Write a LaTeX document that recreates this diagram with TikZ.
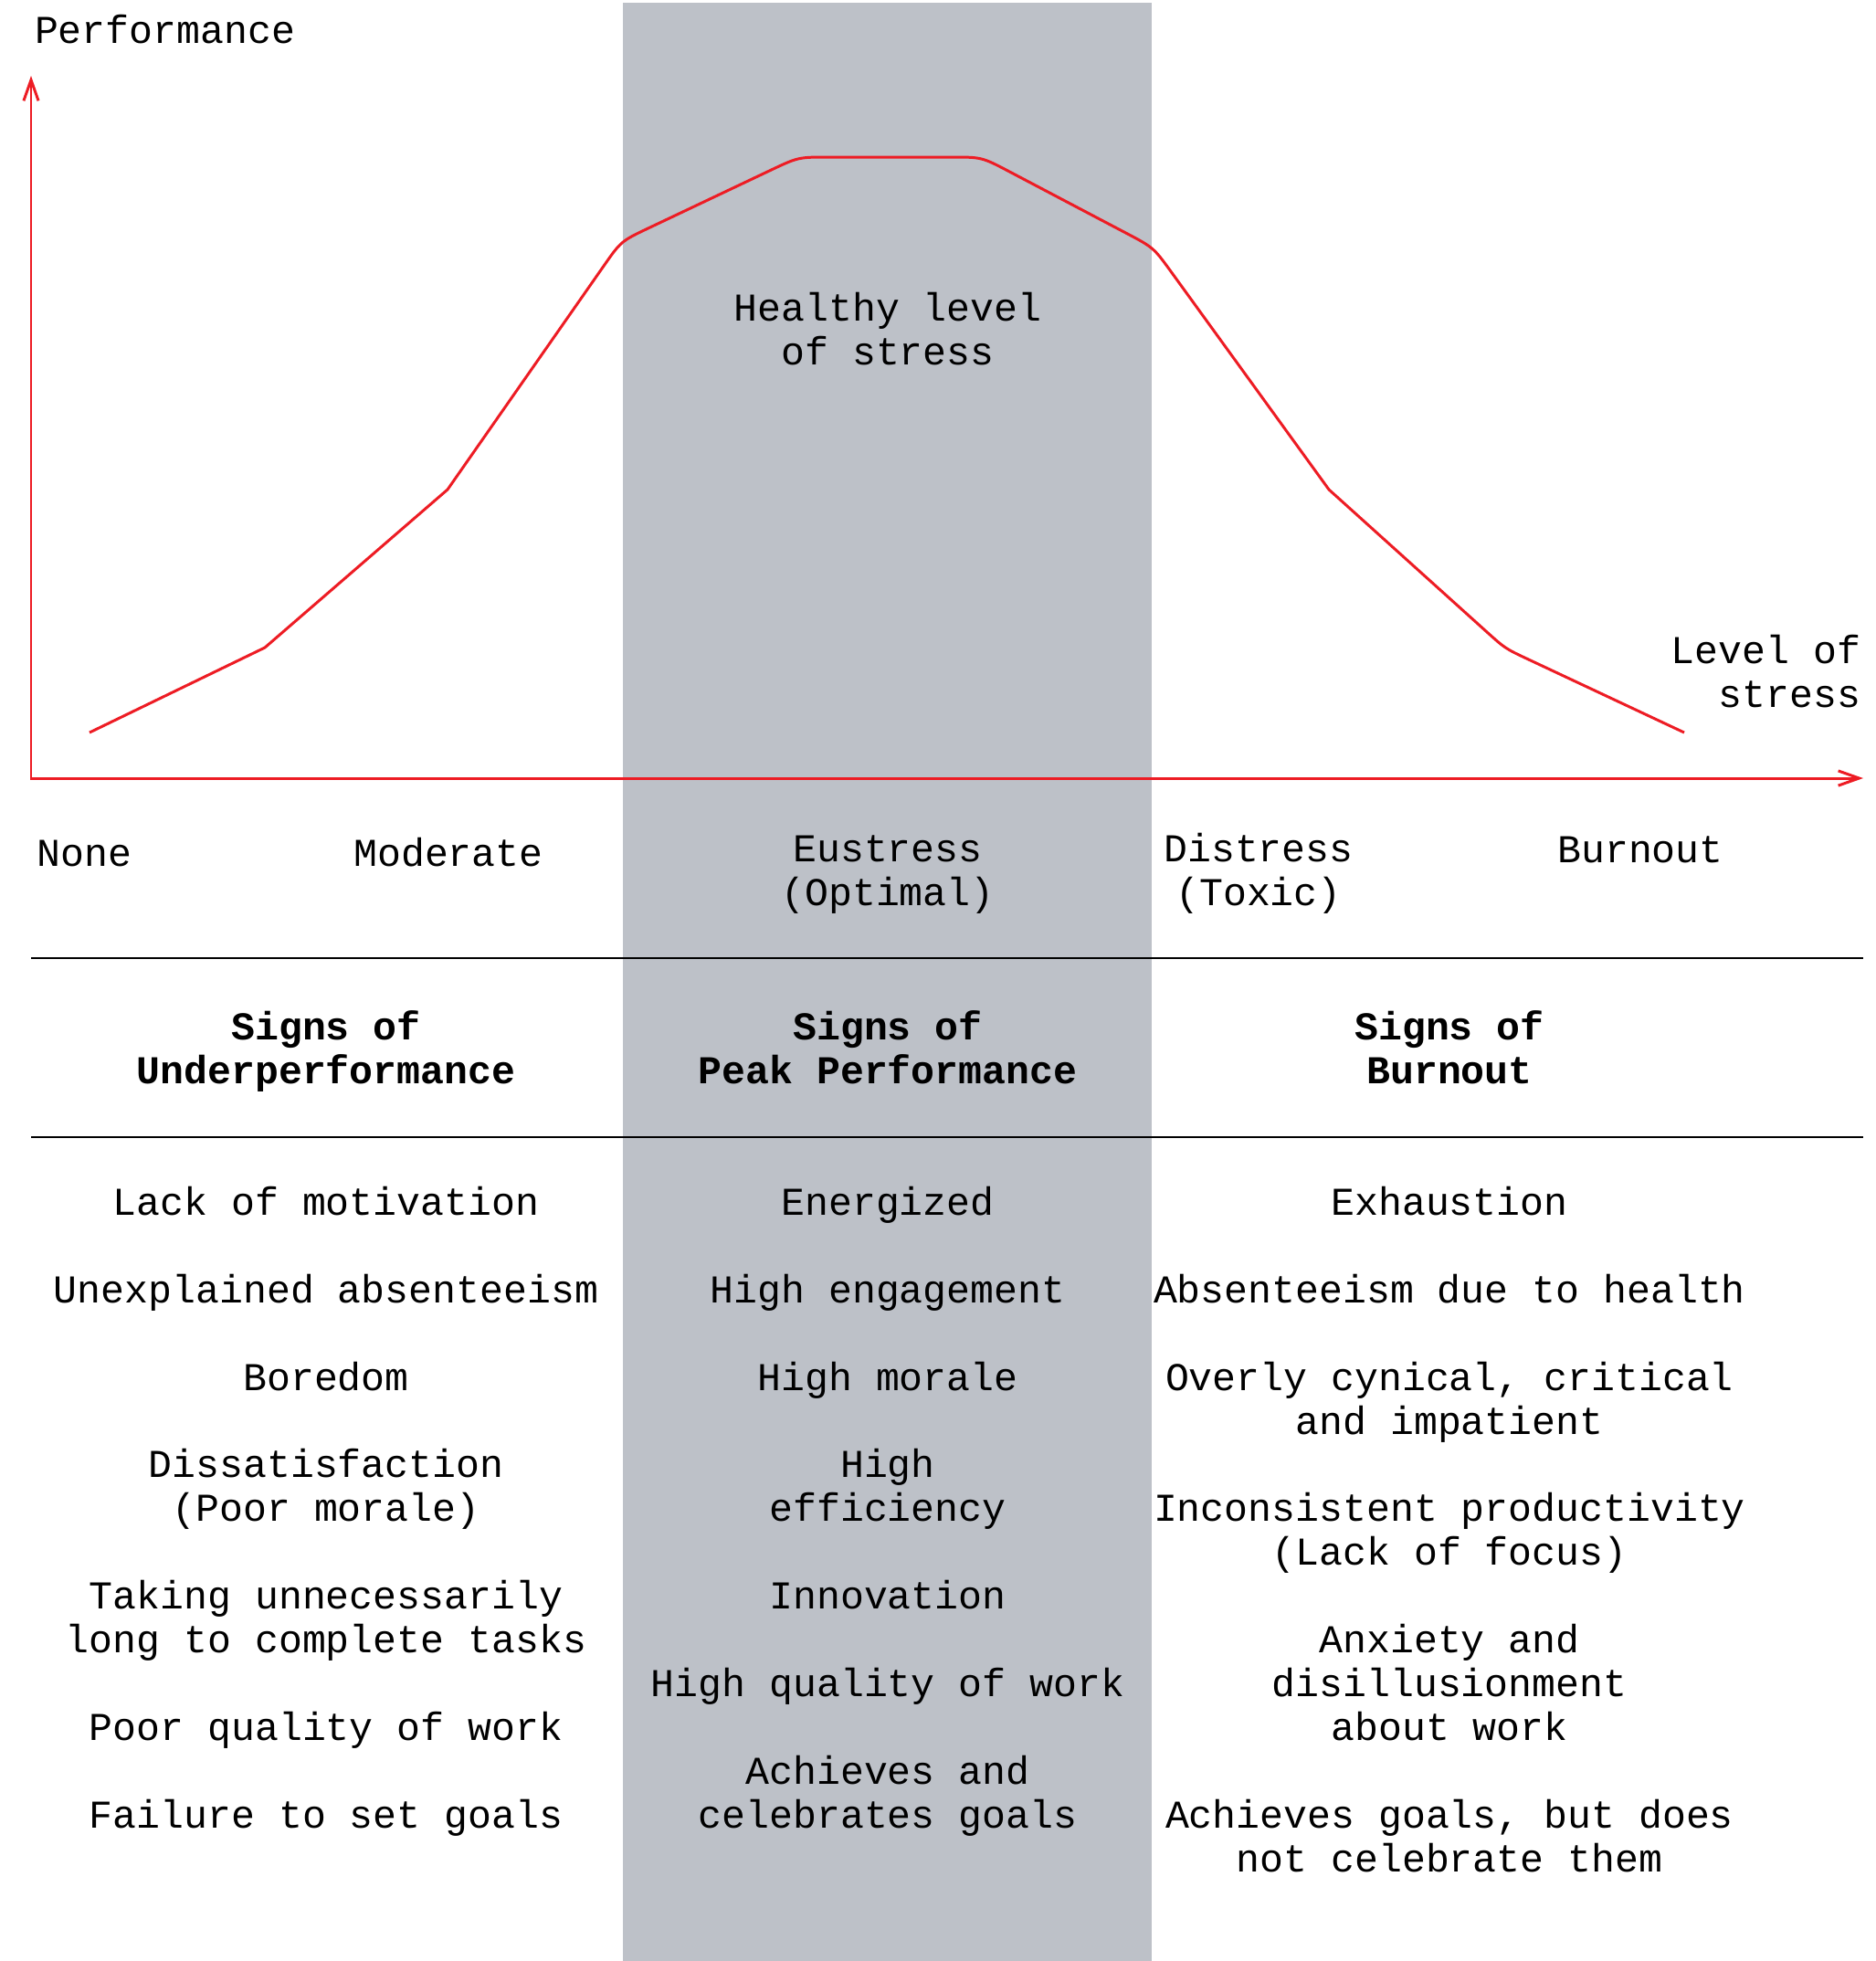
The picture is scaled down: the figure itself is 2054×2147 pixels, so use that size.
\documentclass[tikz,border=0pt]{standalone}
\usepackage{fontspec}
\setmainfont{Liberation Mono}
\usetikzlibrary{arrows.meta,calc}
\definecolor{band}{RGB}{189,193,200}
\definecolor{curvered}{RGB}{237,28,36}
\begin{document}
\begin{tikzpicture}[x=0.01cm,y=-0.01cm,
  txt/.style={inner sep=0pt, outer sep=0pt, font=\fontsize{12.28}{13.63}\selectfont, align=center, anchor=base},
  hd/.style={txt, font=\fontsize{12.28}{13.63}\selectfont\bfseries},
  axisline/.style={draw=curvered, line width=0.85pt, line join=miter,
    {Straight Barb[length=6.5pt,width=4.6pt,line width=0.85pt]}-{Straight Barb[length=6.5pt,width=4.6pt,line width=0.85pt]}},
  rule/.style={draw=black, line width=0.8pt},
  perfcurve/.style={draw=curvered, line width=0.85pt, line join=round}
]
\useasboundingbox (0,0) rectangle (2054,2147);
% grey band
\fill[band] (682,3) rectangle (1261,2147);

% axes
\coordinate (O) at (34,852);
\coordinate (ytip) at (34,83);
\coordinate (xtip) at (2040,852);
\draw[axisline] (ytip) -- (O) -- (xtip);

% performance curve
\coordinate (c0) at (98,802);
\coordinate (c1) at (290,709);
\coordinate (c2) at (490,536);
\coordinate (c3) at (680,264);
\coordinate (c4) at (874,172);
\coordinate (c5) at (1075,172);
\coordinate (c6) at (1263,271);
\coordinate (c7) at (1455,536);
\coordinate (c8) at (1648,710);
\coordinate (c9) at (1844,802);
\def\rr{0.34cm}
\def\rs{0.28cm}
\draw[perfcurve] (c0) -- (c1) -- (c2)
  -- ($(c3)!\rr!(c2)$) .. controls (c3) .. ($(c3)!\rr!(c4)$)
  -- ($(c4)!\rr!(c3)$) .. controls (c4) .. ($(c4)!\rr!(c5)$)
  -- ($(c5)!\rr!(c4)$) .. controls (c5) .. ($(c5)!\rr!(c6)$)
  -- ($(c6)!\rr!(c5)$) .. controls (c6) .. ($(c6)!\rr!(c7)$)
  -- (c7)
  -- ($(c8)!\rs!(c7)$) .. controls (c8) .. ($(c8)!\rs!(c9)$)
  -- (c9);

% axis labels (multi-line nodes are anchored at the baseline of their last line)
\node[txt, anchor=base west] (perf) at (38,47) {Performance};
\node[txt, anchor=base east, align=right] (lvl) at (2037,774) {Level of\\stress};
\node[txt] (healthy) at (972,399) {Healthy level\\of stress};

\node[txt, anchor=base west] (none) at (41,948) {None};
\node[txt] (mod) at (491,948) {Moderate};
\node[txt] (eus) at (972,991) {Eustress\\(Optimal)};
\node[txt] (dis) at (1378,991) {Distress\\(Toxic)};
\node[txt] (burn) at (1796,944) {Burnout};

% rules
\coordinate (r1w) at (34,1049);
\coordinate (r1e) at (2040,1049);
\coordinate (r2w) at (34,1245);
\coordinate (r2e) at (2040,1245);
\draw[rule] (r1w) -- (r1e);
\draw[rule] (r2w) -- (r2e);

% headings
\node[hd] (h1) at (357,1186) {Signs of\\Underperformance};
\node[hd] (h2) at (972,1186) {Signs of\\Peak Performance};
\node[hd] (h3) at (1587,1186) {Signs of\\Burnout};

% column 1
\node[txt] (a1) at (357,1330) {Lack of motivation};
\node[txt] (a2) at (357,1426) {Unexplained absenteeism};
\node[txt] (a3) at (357,1522) {Boredom};
\node[txt] (a4) at (357,1665) {Dissatisfaction\\(Poor morale)};
\node[txt] (a5) at (357,1809) {Taking unnecessarily\\long to complete tasks};
\node[txt] (a6) at (357,1905) {Poor quality of work};
\node[txt] (a7) at (357,2001) {Failure to set goals};

% column 2
\node[txt] (b1) at (972,1330) {Energized};
\node[txt] (b2) at (972,1426) {High engagement};
\node[txt] (b3) at (972,1522) {High morale};
\node[txt] (b4) at (972,1665) {High\\efficiency};
\node[txt] (b5) at (972,1761) {Innovation};
\node[txt] (b6) at (972,1857) {High quality of work};
\node[txt] (b7) at (972,2001) {Achieves and\\celebrates goals};

% column 3
\node[txt] (d1) at (1587,1330) {Exhaustion};
\node[txt] (d2) at (1587,1426) {Absenteeism due to health};
\node[txt] (d3) at (1587,1570) {Overly cynical, critical\\and impatient};
\node[txt] (d4) at (1587,1713) {Inconsistent productivity\\(Lack of focus)};
\node[txt] (d5) at (1587,1905) {Anxiety and\\disillusionment\\about work};
\node[txt] (d6) at (1587,2049) {Achieves goals, but does\\not celebrate them};
\end{tikzpicture}
\end{document}
